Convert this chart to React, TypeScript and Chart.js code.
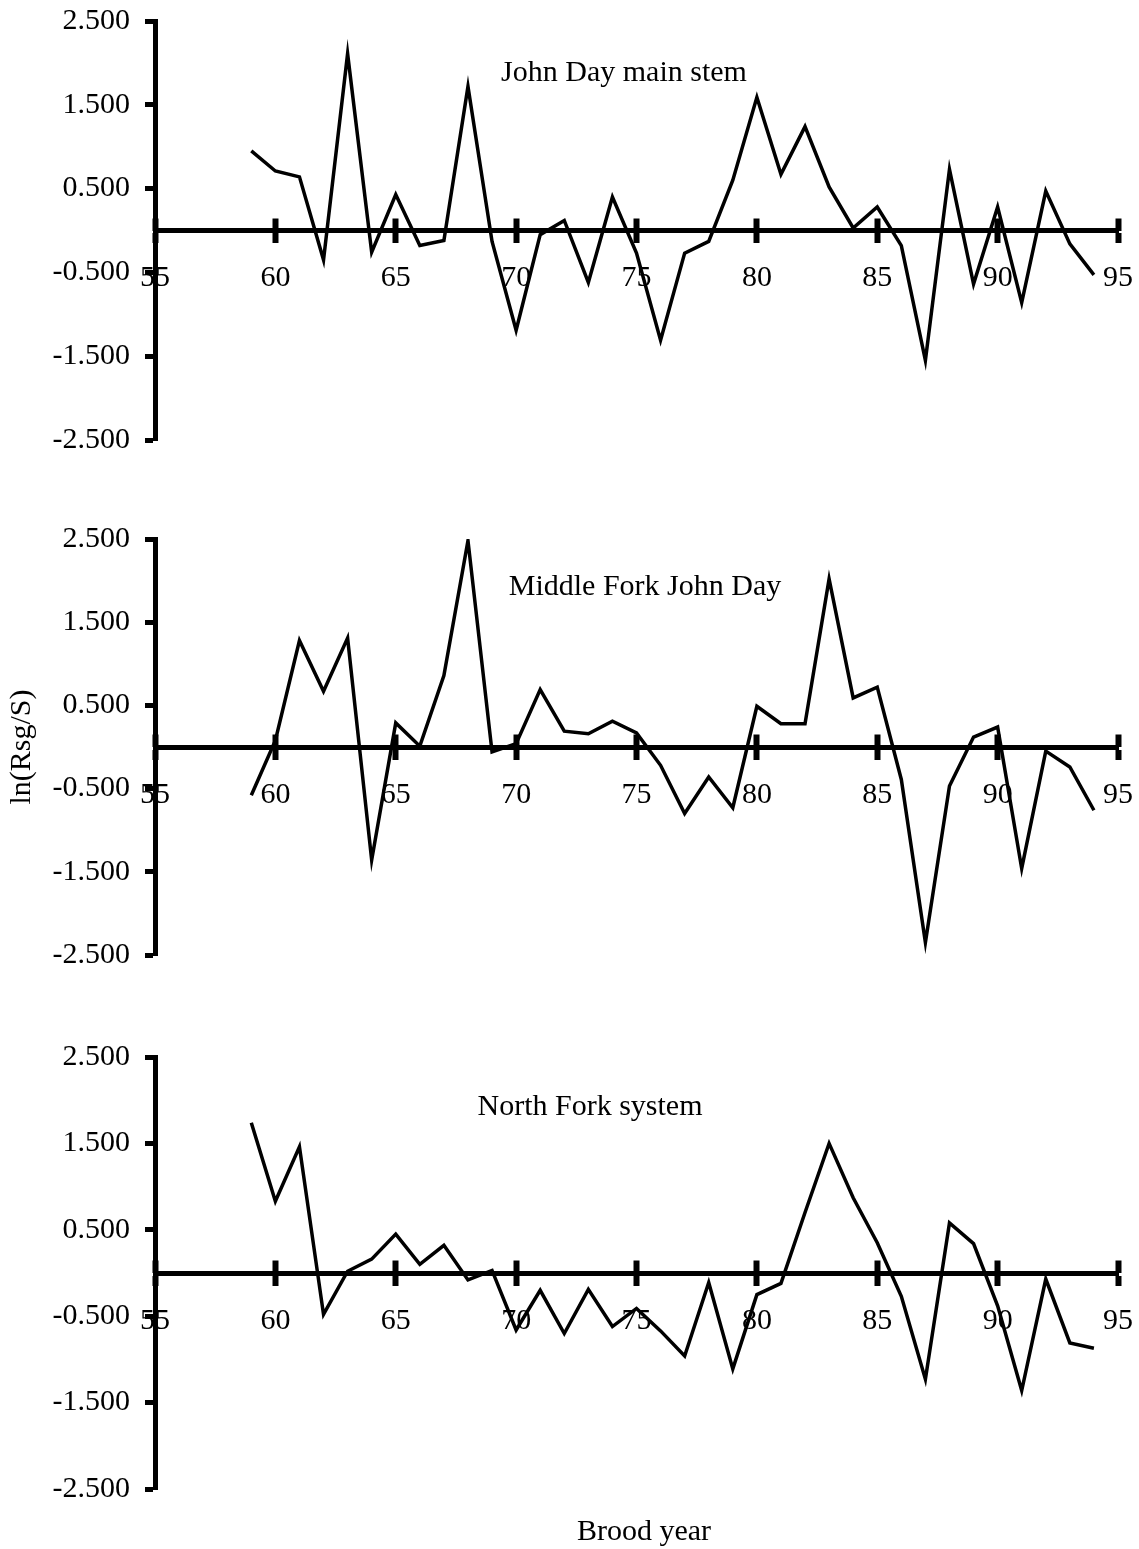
import React, { useEffect, useRef } from "react";
import { Chart, registerables } from "chart.js";

Chart.register(...registerables);

// ---- data ----
const broodYears = [
  59, 60, 61, 62, 63, 64, 65, 66, 67, 68, 69, 70, 71, 72, 73, 74, 75, 76,
  77, 78, 79, 80, 81, 82, 83, 84, 85, 86, 87, 88, 89, 90, 91, 92, 93, 94,
];

const johnDayMainStem = [
  0.95, 0.71, 0.64, -0.35, 2.11, -0.26, 0.43, -0.18, -0.12, 1.72, -0.13, -1.19,
  -0.05, 0.12, -0.62, 0.4, -0.27, -1.31, -0.27, -0.13, 0.6, 1.59, 0.67, 1.24,
  0.52, 0.03, 0.28, -0.18, -1.55, 0.73, -0.64, 0.28, -0.86, 0.47, -0.16, -0.53,
];

const middleForkJohnDay = [
  -0.58, 0.08, 1.28, 0.67, 1.31, -1.36, 0.29, 0.01, 0.86, 2.48, -0.06, 0.04,
  0.69, 0.19, 0.16, 0.31, 0.17, -0.22, -0.8, -0.36, -0.73, 0.49, 0.28, 0.28,
  2.02, 0.59, 0.72, -0.39, -2.35, -0.47, 0.12, 0.24, -1.46, -0.05, -0.24, -0.76,
];

const northForkSystem = [
  1.74, 0.83, 1.46, -0.48, 0.02, 0.16, 0.45, 0.1, 0.32, -0.08, 0.03, -0.66,
  -0.2, -0.7, -0.19, -0.62, -0.41, -0.67, -0.96, -0.11, -1.11, -0.25, -0.12, 0.7,
  1.5, 0.87, 0.35, -0.27, -1.23, 0.58, 0.34, -0.38, -1.36, -0.07, -0.81, -0.87,
];

const yTickValues = [-2.5, -1.5, -0.5, 0.5, 1.5, 2.5];
const yMin = -2.5;
const yMax = 2.5;
const xMin = 55;
const xMax = 95;
const xStep = 5;

const panelTitles = ["John Day main stem", "Middle Fork John Day", "North Fork system"];
const yAxisTitle = "ln(Rsg/S)";
const xAxisTitle = "Brood year";

// ---- styling ----
const FONT_FAMILY = "'Liberation Serif', 'Times New Roman', serif";
const FONT = { family: FONT_FAMILY, size: 30 };

type PanelProps = {
  values: number[];
  top: number;
  height: number;
  padTop: number;
  padBottom: number;
  showYTitle: boolean;
};

const flattenX = (s: any) => {
  s.height = 0;
  s.paddingLeft = 0;
  s.paddingRight = 0;
};

function Panel({ values, top, height, padTop, padBottom, showYTitle }: PanelProps) {
  const ref = useRef<HTMLCanvasElement>(null);

  useEffect(() => {
    if (!ref.current) return;
    const chart = new Chart(ref.current, {
      type: "line",
      data: {
        datasets: [
          {
            data: broodYears.map((x, i) => ({ x, y: values[i] })),
            borderColor: "#000",
            borderWidth: 3.5,
            pointRadius: 0,
            fill: false,
            tension: 0,
            xAxisID: "x",
            yAxisID: "y",
          },
        ],
      },
      options: {
        animation: false,
        responsive: false,
        devicePixelRatio: 1,
        events: [],
        layout: { padding: { left: 0, right: 21, top: padTop, bottom: padBottom } },
        plugins: {
          legend: { display: false },
          tooltip: { enabled: false },
          title: { display: false },
        },
        scales: {
          x: {
            type: "linear",
            axis: "x",
            position: { y: 0 },
            min: xMin,
            max: xMax,
            afterFit: flattenX,
            ticks: {
              stepSize: xStep,
              color: "#000",
              font: FONT,
              padding: 20,
              maxRotation: 0,
              autoSkip: false,
            },
            grid: {
              drawOnChartArea: false,
              drawTicks: true,
              tickLength: 10,
              tickWidth: 6,
              tickColor: "#000",
              color: "#000",
            },
            border: { display: true, color: "#000", width: 5 },
          },
          xUp: {
            type: "linear",
            axis: "x",
            position: { y: 0 },
            min: xMin,
            max: xMax,
            afterFit: flattenX,
            ticks: { stepSize: xStep, display: false, autoSkip: false },
            grid: {
              drawOnChartArea: false,
              drawTicks: true,
              tickLength: -12.5,
              tickWidth: 6,
              tickColor: "#000",
              color: "#000",
            },
            border: { display: false },
          },
          y: {
            type: "linear",
            position: "left",
            min: yMin,
            max: yMax,
            afterFit: (s: any) => {
              s.width = 155;
              s.paddingTop = 0;
              s.paddingBottom = 0;
            },
            afterBuildTicks: (s: any) => {
              s.ticks = yTickValues.map((value) => ({ value }));
            },
            ticks: {
              color: "#000",
              font: FONT,
              padding: 15,
              callback: (v: any) => Number(v).toFixed(3),
            },
            grid: {
              drawOnChartArea: false,
              drawTicks: true,
              tickLength: 10,
              tickWidth: 5,
              tickColor: "#000",
              color: "#000",
            },
            border: { display: true, color: "#000", width: 5 },
            title: {
              display: showYTitle,
              text: yAxisTitle,
              color: "#000",
              font: FONT,
              padding: { top: 4, bottom: 0 },
            },
          },
        },
      } as any,
    });
    return () => chart.destroy();
  }, [values, padTop, padBottom, showYTitle]);

  return (
    <canvas
      ref={ref}
      width={1139}
      height={height}
      style={{ position: "absolute", left: 0, top, width: 1139, height, display: "block" }}
    />
  );
}

const textStyle: React.CSSProperties = {
  position: "absolute",
  fontFamily: FONT_FAMILY,
  fontSize: 30,
  lineHeight: "35px",
  color: "#000",
  whiteSpace: "nowrap",
  transform: "translateX(-50%)",
};

export default function App() {
  useEffect(() => {
    document.body.style.margin = "0";
    document.body.style.background = "#fff";
  }, []);

  return (
    <div
      style={{
        position: "relative",
        width: 1139,
        height: 1549,
        overflow: "hidden",
        background: "#fff",
      }}
    >
      <Panel values={johnDayMainStem} top={0} height={500} padTop={21} padBottom={60} showYTitle={false} />
      <Panel values={middleForkJohnDay} top={500} height={520} padTop={39} padBottom={65} showYTitle={true} />
      <Panel values={northForkSystem} top={1020} height={529} padTop={37} padBottom={60} showYTitle={false} />

      <div style={{ ...textStyle, left: 624, top: 53 }}>{panelTitles[0]}</div>
      <div style={{ ...textStyle, left: 645, top: 567 }}>{panelTitles[1]}</div>
      <div style={{ ...textStyle, left: 590, top: 1087 }}>{panelTitles[2]}</div>
      <div style={{ ...textStyle, left: 644, top: 1512 }}>{xAxisTitle}</div>
    </div>
  );
}
